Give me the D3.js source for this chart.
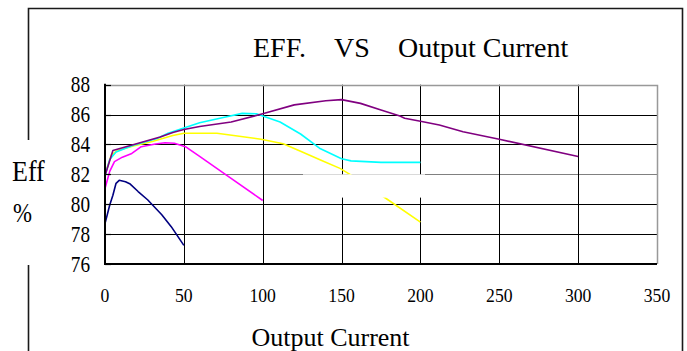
<!DOCTYPE html>
<html><head><meta charset="utf-8">
<script src="https://cdn.jsdelivr.net/npm/d3@7/dist/d3.min.js"></script>
<style>body{margin:0;background:#fff}svg{display:block}text{font-family:"Liberation Serif","Times New Roman",serif;fill:#000}</style>
</head><body>
<svg id="c" width="687" height="351"></svg>
<script>
const titleParts = ["EFF.", "VS", "Output Current"];
const xLabel = "Output Current";
const yLabel = ["Eff", "%"];
const xTicks = [0, 50, 100, 150, 200, 250, 300, 350];
const yTicks = [76, 78, 80, 82, 84, 86, 88];

const navySeries = [[0,78.7],[3,79.95],[5,80.6],[7,81.4],[9,81.6],[13,81.5],[16,81.35],[21,80.85],[27,80.3],[36,79.3],[42,78.5],[50,77.25]];
const magentaSeries = [[0,81.05],[3,82.2],[6,82.85],[11,83.15],[17,83.4],[23,83.85],[32,84.03],[38,84.12],[44,84.08],[51,83.85],[60,83.2],[77,81.95],[100,80.25]];
const yellowSeries = [[0,82.0],[4,83.3],[8,83.6],[18,83.9],[30,84.2],[43,84.6],[50,84.75],[71,84.75],[99,84.35],[113,84.05],[124,83.55],[137,82.95],[149,82.4],[160,81.7],[178,80.4],[200,78.8]];
const cyanSeries = [[0,81.9],[3,83.0],[7,83.5],[18,83.95],[33,84.4],[40,84.75],[50,85.1],[60,85.45],[75,85.8],[87,86.08],[96,86.05],[111,85.5],[124,84.7],[136,83.75],[150,83.05],[156,82.9],[175,82.8],[200,82.8]];
const purpleSeries = [[0,81.9],[5,83.6],[15,83.9],[25,84.2],[35,84.5],[43,84.8],[50,85.0],[60,85.2],[80,85.5],[100,86.05],[120,86.65],[140,86.93],[150,87.0],[162,86.75],[175,86.3],[187,85.9],[190,85.75],[200,85.55],[212,85.3],[227,84.85],[250,84.35],[300,83.2]];

const series = [
  {data: navySeries, color: "#000080"},
  {data: magentaSeries, color: "#FF00FF"},
  {data: yellowSeries, color: "#FFFF00"},
  {data: cyanSeries, color: "#00FFFF"},
  {data: purpleSeries, color: "#800080"}
];

const FONT = "Liberation Serif";
const svg = d3.select("#c");
const x = d3.scaleLinear().domain([0, 350]).range([105, 657]);
const y = d3.scaleLinear().domain([76, 88]).range([264, 84.7]);

// outer frame (open at bottom, broken at left around y label)
const frame = svg.append("g").attr("stroke", "#1a1a1a").attr("stroke-width", 1.6).attr("fill", "none");
frame.append("path").attr("d", "M28.5,140 V8.5 H682.5 V351");
frame.append("path").attr("d", "M28.5,265 V351");

// title
const titleX = [253, 334, 398];
svg.selectAll("text.title").data(titleParts).join("text")
  .attr("class", "title").attr("x", (d, i) => titleX[i]).attr("y", 57)
  .attr("font-family", FONT).attr("font-size", 28).text(d => d);

// grid lines
const g = svg.append("g");
g.selectAll("line.hg").data(yTicks.filter(v => v > 76 && v < 88)).join("line")
  .attr("x1", x(0)).attr("x2", x(350))
  .attr("y1", d => Math.round(y(d)) + 0.5).attr("y2", d => Math.round(y(d)) + 0.5)
  .attr("stroke", d => d === 82 ? "#808080" : "#000").attr("stroke-width", 1);
g.selectAll("line.vg").data(xTicks.filter(v => v > 0 && v < 350)).join("line")
  .attr("y1", y(88)).attr("y2", y(76))
  .attr("x1", d => Math.round(x(d)) + 0.5).attr("x2", d => Math.round(x(d)) + 0.5)
  .attr("stroke", "#000").attr("stroke-width", 1);
// top & right border gray
g.append("path").attr("d", `M${x(0)},${Math.round(y(88)) + 0.5} H${Math.round(x(350)) + 0.5} V${y(76)}`)
  .attr("fill", "none").attr("stroke", "#999").attr("stroke-width", 1.5);

// data lines
const line = d3.line().x(d => x(d[0])).y(d => y(d[1]));
svg.append("g").selectAll("path").data(series).join("path")
  .attr("d", d => line(d.data)).attr("fill", "none")
  .attr("stroke", d => d.color).attr("stroke-width", 1.6).attr("stroke-linejoin", "round");

// white box covering part of the plot
svg.append("rect").attr("x", 303).attr("y", 174.3).attr("width", 122).attr("height", 23.3).attr("fill", "#fff");

// axes lines
svg.append("line").attr("x1", x(0)).attr("x2", x(0)).attr("y1", y(88) - 1).attr("y2", y(76) + 1)
  .attr("stroke", "#000").attr("stroke-width", 2);
svg.append("line").attr("x1", x(0) - 1).attr("x2", x(350)).attr("y1", y(76)).attr("y2", y(76))
  .attr("stroke", "#000").attr("stroke-width", 2);
// y ticks inside
svg.selectAll("line.yt").data(yTicks).join("line")
  .attr("x1", x(0)).attr("x2", x(0) + 6)
  .attr("y1", d => Math.round(y(d)) + 0.5).attr("y2", d => Math.round(y(d)) + 0.5)
  .attr("stroke", "#000").attr("stroke-width", 1.2);

// y tick labels
svg.selectAll("text.yl").data(yTicks).join("text")
  .attr("class", "yl")
  .attr("transform", d => `translate(90,${y(d) + 7.5}) scale(0.8,1)`)
  .attr("text-anchor", "end").attr("font-family", FONT).attr("font-size", 24).text(d => d);

// x tick labels
svg.selectAll("text.xl").data(xTicks).join("text")
  .attr("class", "xl")
  .attr("transform", d => `translate(${x(d)},302) scale(0.98,1)`)
  .attr("text-anchor", "middle").attr("font-family", FONT).attr("font-size", 18).text(d => d);

// axis titles
svg.append("text").attr("x", 330.5).attr("y", 345.5).attr("text-anchor", "middle")
  .attr("font-family", FONT).attr("font-size", 26).text(xLabel);
svg.append("text").attr("transform", "translate(12,181) scale(1,1.12)").attr("font-family", FONT).attr("font-size", 26).text(yLabel[0]);
svg.append("text").attr("transform", "translate(13,221.5) scale(0.95,1.15)").attr("font-family", FONT).attr("font-size", 24).text(yLabel[1]);
</script>
</body></html>
